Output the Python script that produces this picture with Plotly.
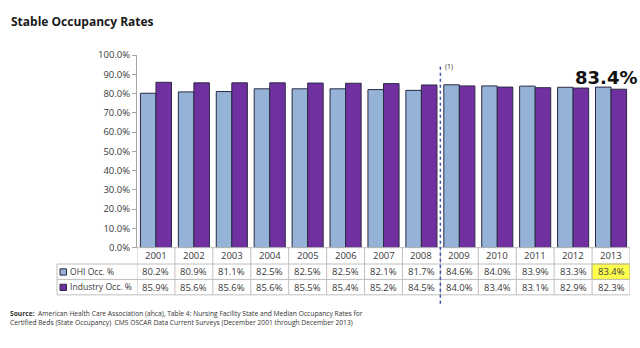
import plotly.graph_objects as go

# Occupancy data, 2001-2013
years = ["2001", "2002", "2003", "2004", "2005", "2006", "2007",
         "2008", "2009", "2010", "2011", "2012", "2013"]
ohi_occ = [80.2, 80.9, 81.1, 82.5, 82.5, 82.5, 82.1, 81.7, 84.6, 84.0, 83.9, 83.3, 83.4]
industry_occ = [85.9, 85.6, 85.6, 85.6, 85.5, 85.4, 85.2, 84.5, 84.0, 83.4, 83.1, 82.9, 82.3]
series_names = ["OHI Occ. %", "Industry Occ. %"]
y_ticks = [0, 10, 20, 30, 40, 50, 60, 70, 80, 90, 100]

W, H = 640, 348
OHI_COLOR = "#95B3D7"
IND_COLOR = "#7030A0"
EDGE = "#2A2A45"
GRID = "#BFBFBF"
TXT = "#3A3A3A"
FONT = "Open Sans"


def px(x):
    return x / W


def py(y):
    return 1 - y / H


# Plot area in pixels
X0, X1 = 137, 630
Y_TOP, Y_BOT = 50, 250

fig = go.Figure()
fig.add_trace(go.Bar(x=years, y=ohi_occ, name=series_names[0],
                     marker=dict(color=OHI_COLOR, line=dict(color=EDGE, width=1))))
fig.add_trace(go.Bar(x=years, y=industry_occ, name=series_names[1],
                     marker=dict(color=IND_COLOR, line=dict(color=EDGE, width=1))))

shapes = []
annotations = []


def label(x, y, text, size=9.5, xref="paper", xanchor="center",
          family=FONT, color=TXT, align="center"):
    annotations.append(dict(x=x, xref=xref, y=y, yref="paper", text=text,
                            showarrow=False, xanchor=xanchor, yanchor="middle",
                            align=align,
                            font=dict(family=family, size=size, color=color)))


# Data table beneath the chart: horizontal rules
row_lines = [(Y_BOT, X0), (267, 57), (283, 57), (299, 57)]
for yl, xs in row_lines:
    shapes.append(dict(type="line", xref="paper", yref="paper",
                       x0=px(xs), x1=px(X1), y0=py(yl), y1=py(yl),
                       line=dict(color=GRID, width=1)))
# vertical rules at category boundaries
n = len(years)
for i in range(n + 1):
    shapes.append(dict(type="line", xref="x", yref="paper",
                       x0=i - 0.5, x1=i - 0.5, y0=py(Y_BOT), y1=py(299),
                       line=dict(color=GRID, width=1)))
shapes.append(dict(type="line", xref="paper", yref="paper",
                   x0=px(57), x1=px(57), y0=py(267), y1=py(299),
                   line=dict(color=GRID, width=1)))

# Highlighted latest OHI value cell
shapes.append(dict(type="rect", xref="x", yref="paper",
                   x0=n - 1.5, x1=n - 0.5, y0=py(283), y1=py(267),
                   fillcolor="#FFFF4D", line=dict(color="#D9C400", width=1),
                   layer="below"))

# Legend swatches in the table
shapes.append(dict(type="rect", xref="paper", yref="paper",
                   x0=px(60), x1=px(66.5), y0=py(278.5), y1=py(272),
                   fillcolor=OHI_COLOR, line=dict(color=EDGE, width=1)))
shapes.append(dict(type="rect", xref="paper", yref="paper",
                   x0=px(60), x1=px(66.5), y0=py(294.5), y1=py(288),
                   fillcolor=IND_COLOR, line=dict(color=EDGE, width=1)))

# Dashed divider between 2008 and 2009
shapes.append(dict(type="line", xref="x", yref="paper",
                   x0=7.5, x1=7.5, y0=py(62), y1=py(311),
                   line=dict(color="#3F4FA8", width=1.5, dash="dot")))

# Table text (category index positions on the x axis)
for i, yr in enumerate(years):
    label(i, py(258.5), yr, xref="x")
    label(i, py(275), f"{ohi_occ[i]:.1f}%", xref="x")
    label(i, py(291), f"{industry_occ[i]:.1f}%", xref="x")

for name, yc in zip(series_names, [275, 291]):
    label(px(68), py(yc), name, size=8.6, xanchor="left")

# Title
label(px(9), py(15), "<b>Stable Occupancy Rates</b>", size=12, xanchor="left",
      color="#1A1A1A")

# Callout of the latest OHI value
label(px(606), py(73), f"<b>{ohi_occ[-1]:.1f}%</b>", size=18,
      family="DejaVu Sans", color="#111111")

# Footnote marker on the divider
label(px(443), py(62), "(1)", size=7, xanchor="left", color="#333333")

# Source note
label(px(8), py(323.5),
      "<b>Source:</b>  American Health Care Association (ahca), Table 4: "
      "Nursing Facility State and Median Occupancy Rates for<br>"
      "Certified Beds (State Occupancy)  CMS OSCAR Data Current Surveys "
      "(December 2001 through December 2013)",
      size=6.7, xanchor="left", align="left", color="#333333")

fig.update_layout(
    width=W, height=H,
    margin=dict(l=0, r=0, t=0, b=0),
    paper_bgcolor="white", plot_bgcolor="white",
    barmode="group", bargap=0.18, bargroupgap=0,
    showlegend=False,
    shapes=shapes, annotations=annotations,
    xaxis=dict(domain=[px(X0), px(X1)], type="category",
               range=[-0.5, n - 0.5], showticklabels=False,
               showline=False, showgrid=False, ticks="", zeroline=False),
    yaxis=dict(domain=[py(Y_BOT), py(Y_TOP)], range=[0, 100],
               tickvals=y_ticks, ticktext=[f"{v:.1f}%" for v in y_ticks],
               showgrid=False, zeroline=False, showline=True,
               linecolor="#A6A6A6", linewidth=1, ticks="outside",
               ticklen=4, tickcolor="#A6A6A6",
               tickfont=dict(family=FONT, size=9.5, color=TXT)),
)

fig.write_html("out.html")
